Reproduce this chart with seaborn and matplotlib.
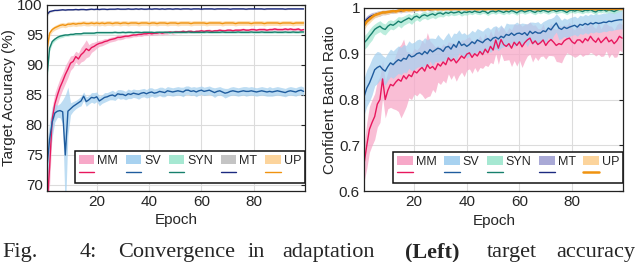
import numpy as np
import matplotlib
matplotlib.use("Agg")
import matplotlib.pyplot as plt
from matplotlib.patches import Patch
from matplotlib.lines import Line2D
import seaborn as sns

epochs = list(range(1, 100))
names = ["MM", "SV", "SYN", "MT", "UP"]

# ---------- left panel: target accuracy (%) ----------
mm_acc = [66.0, 73.0, 81.0, 83.5, 85.0, 86.3, 87.3, 88.4, 89.3, 90.3,
          90.6, 91.4, 91.0, 91.7, 92.1, 92.7, 92.4, 92.9, 93.1, 93.4,
          93.6, 93.7, 93.9, 94.0, 94.2, 94.3, 94.4, 94.6, 94.6, 94.7,
          94.8, 94.8, 94.9, 95.0, 95.0, 95.1, 95.1, 95.2, 95.2, 95.3,
          95.2, 95.3, 95.3, 95.4, 95.3, 95.4, 95.4, 95.5, 95.4, 95.5,
          95.5, 95.5, 95.6, 95.5, 95.6, 95.6, 95.5, 95.6, 95.6, 95.7,
          95.6, 95.7, 95.7, 95.6, 95.7, 95.7, 95.8, 95.7, 95.7, 95.8,
          95.8, 95.7, 95.8, 95.8, 95.8, 95.9, 95.8, 95.8, 95.9, 95.9,
          95.8, 95.9, 95.9, 95.9, 95.8, 95.9, 95.9, 96.0, 95.9, 95.9,
          95.9, 96.0, 95.9, 96.0, 95.9, 95.9, 96.0, 95.8, 95.9]
mm_acc_err = [3.0, 3.0, 2.0, 1.8, 1.6, 1.5, 1.4, 1.5, 1.4, 1.2,
              1.0, 0.9, 1.0, 1.2, 1.4, 1.5, 1.0, 0.8, 0.7, 0.6,
              0.5, 0.5, 0.5, 0.4, 0.4, 0.4, 0.4, 0.4, 0.4, 0.4,
              0.3, 0.3, 0.35, 0.3, 0.3, 0.3, 0.35, 0.3, 0.3, 0.3,
              0.3, 0.3, 0.3, 0.25, 0.3, 0.3, 0.3, 0.25, 0.3, 0.3,
              0.25, 0.3, 0.3, 0.25, 0.25, 0.3, 0.25, 0.25, 0.3, 0.25,
              0.25, 0.25, 0.3, 0.25, 0.25, 0.25, 0.25, 0.3, 0.25, 0.25,
              0.25, 0.25, 0.25, 0.25, 0.3, 0.25, 0.25, 0.25, 0.25, 0.25,
              0.25, 0.25, 0.25, 0.3, 0.25, 0.25, 0.25, 0.25, 0.25, 0.25,
              0.25, 0.25, 0.25, 0.25, 0.25, 0.3, 0.25, 0.25, 0.25]

sv_acc = [73.0, 77.6, 80.5, 82.0, 82.3, 82.4, 82.2, 75.0, 82.3, 82.7,
          83.1, 83.4, 83.7, 84.0, 84.8, 83.9, 84.2, 84.6, 84.5, 84.7,
          84.0, 84.3, 84.6, 84.7, 84.9, 85.0, 84.8, 85.2, 85.1, 85.1,
          84.9, 85.2, 85.1, 85.3, 85.2, 85.1, 85.3, 85.4, 85.2, 85.4,
          85.5, 85.3, 85.4, 85.6, 85.5, 85.4, 85.7, 85.6, 85.5, 85.6,
          85.7, 85.6, 85.5, 85.8, 85.8, 85.6, 85.7, 85.5, 85.7, 85.8,
          85.6, 85.7, 85.8, 85.6, 85.4, 85.6, 85.7, 85.5, 85.3, 85.4,
          85.6, 85.7, 85.6, 85.5, 85.6, 85.7, 85.6, 85.6, 85.7, 85.6,
          85.5, 85.6, 85.7, 85.6, 85.5, 85.6, 85.5, 85.6, 85.7, 85.6,
          85.5, 85.4, 85.6, 85.7, 85.6, 85.5, 85.7, 85.8, 85.6]
sv_acc_err = [4.0, 3.0, 2.5, 1.5, 1.0, 1.2, 2.0, 10.0, 4.0, 1.0,
              0.8, 0.7, 0.7, 0.8, 0.7, 0.8, 0.7, 0.8, 0.9, 0.8,
              0.8, 0.7, 0.8, 0.7, 0.7, 0.8, 0.7, 0.7, 0.8, 0.7,
              0.7, 0.8, 0.7, 0.7, 0.7, 0.8, 0.7, 0.7, 0.7, 0.8,
              0.7, 0.7, 0.7, 0.7, 0.8, 0.7, 0.7, 0.7, 0.7, 0.7,
              0.7, 0.7, 0.8, 0.7, 0.7, 0.7, 0.7, 0.8, 0.7, 0.7,
              0.7, 0.7, 0.7, 0.7, 0.8, 0.7, 0.7, 0.7, 0.8, 0.7,
              0.7, 0.7, 0.7, 0.7, 0.7, 0.7, 0.8, 0.7, 0.7, 0.7,
              0.7, 0.7, 0.7, 0.7, 0.7, 0.8, 0.7, 0.7, 0.7, 0.7,
              0.7, 0.7, 0.7, 0.7, 0.7, 0.7, 0.7, 0.7, 0.7]

syn_acc = [88.2, 92.8, 93.9, 94.3, 94.6, 94.8, 94.9, 95.0, 95.0, 95.1,
           95.1, 95.2, 95.2, 95.2, 95.3, 95.3, 95.3, 95.3, 95.3, 95.4,
           95.4, 95.4, 95.4, 95.4, 95.4, 95.4, 95.45, 95.4, 95.4, 95.45,
           95.4, 95.45, 95.45, 95.4, 95.45, 95.45, 95.4, 95.45, 95.45, 95.45,
           95.45, 95.4, 95.45, 95.45, 95.45, 95.45, 95.45, 95.4, 95.45, 95.45,
           95.45, 95.45, 95.45, 95.45, 95.5, 95.45, 95.45, 95.45, 95.45, 95.45,
           95.45, 95.5, 95.45, 95.45, 95.45, 95.45, 95.45, 95.5, 95.45, 95.45,
           95.45, 95.45, 95.45, 95.5, 95.45, 95.45, 95.45, 95.45, 95.5, 95.45,
           95.45, 95.45, 95.5, 95.45, 95.45, 95.45, 95.45, 95.5, 95.45, 95.45,
           95.45, 95.5, 95.45, 95.45, 95.5, 95.45, 95.45, 95.5, 95.5]
syn_acc_err = [1.0, 0.5, 0.4, 0.3, 0.3, 0.3, 0.3, 0.2, 0.2, 0.2,
               0.2, 0.2, 0.2, 0.2, 0.2, 0.2, 0.2, 0.2, 0.2, 0.2,
               0.2, 0.2, 0.2, 0.2, 0.2, 0.2, 0.2, 0.2, 0.2, 0.2,
               0.2, 0.2, 0.2, 0.2, 0.2, 0.2, 0.2, 0.2, 0.2, 0.2,
               0.2, 0.2, 0.2, 0.2, 0.2, 0.2, 0.2, 0.2, 0.2, 0.2,
               0.2, 0.2, 0.2, 0.2, 0.2, 0.2, 0.2, 0.2, 0.2, 0.2,
               0.2, 0.2, 0.2, 0.2, 0.2, 0.2, 0.2, 0.2, 0.2, 0.2,
               0.2, 0.2, 0.2, 0.2, 0.2, 0.2, 0.2, 0.2, 0.2, 0.2,
               0.2, 0.2, 0.2, 0.2, 0.2, 0.2, 0.2, 0.2, 0.2, 0.2,
               0.2, 0.2, 0.2, 0.2, 0.2, 0.2, 0.2, 0.2, 0.2]

mt_acc = [98.4, 98.9, 99.0, 99.1, 99.1, 99.15, 99.2, 99.15, 99.2, 99.2,
          99.2, 99.25, 99.2, 99.25, 99.25, 99.2, 99.25, 99.3, 99.25, 99.3,
          99.25, 99.3, 99.3, 99.25, 99.3, 99.3, 99.3, 99.35, 99.3, 99.3,
          99.3, 99.35, 99.3, 99.3, 99.35, 99.3, 99.35, 99.3, 99.3, 99.35,
          99.3, 99.35, 99.35, 99.3, 99.35, 99.3, 99.35, 99.35, 99.3, 99.35,
          99.35, 99.3, 99.35, 99.35, 99.35, 99.3, 99.35, 99.35, 99.35, 99.3,
          99.35, 99.35, 99.35, 99.35, 99.3, 99.35, 99.35, 99.35, 99.35, 99.35,
          99.3, 99.35, 99.35, 99.35, 99.35, 99.35, 99.3, 99.35, 99.35, 99.35,
          99.35, 99.35, 99.35, 99.3, 99.35, 99.35, 99.35, 99.35, 99.35, 99.35,
          99.35, 99.3, 99.35, 99.35, 99.35, 99.35, 99.35, 99.35, 99.35]
mt_acc_err = [0.3, 0.2, 0.15, 0.1, 0.1, 0.1, 0.1, 0.1, 0.1, 0.1,
              0.1, 0.1, 0.1, 0.1, 0.1, 0.1, 0.1, 0.1, 0.1, 0.1,
              0.1, 0.1, 0.1, 0.1, 0.1, 0.1, 0.1, 0.1, 0.1, 0.1,
              0.1, 0.1, 0.1, 0.1, 0.1, 0.1, 0.1, 0.1, 0.1, 0.1,
              0.1, 0.1, 0.1, 0.1, 0.1, 0.1, 0.1, 0.1, 0.1, 0.1,
              0.1, 0.1, 0.1, 0.1, 0.1, 0.1, 0.1, 0.1, 0.1, 0.1,
              0.1, 0.1, 0.1, 0.1, 0.1, 0.1, 0.1, 0.1, 0.1, 0.1,
              0.1, 0.1, 0.1, 0.1, 0.1, 0.1, 0.1, 0.1, 0.1, 0.1,
              0.1, 0.1, 0.1, 0.1, 0.1, 0.1, 0.1, 0.1, 0.1, 0.1,
              0.1, 0.1, 0.1, 0.1, 0.1, 0.1, 0.1, 0.1, 0.1]

up_acc = [92.6, 95.3, 95.9, 96.2, 96.4, 96.6, 96.7, 96.6, 96.8, 96.8,
          96.9, 96.8, 96.9, 96.9, 97.0, 96.9, 96.9, 97.0, 96.9, 97.0,
          96.9, 97.0, 96.9, 97.0, 97.0, 96.9, 97.0, 97.0, 96.9, 97.0,
          97.0, 96.9, 97.0, 97.0, 97.0, 96.9, 97.0, 97.0, 97.0, 96.9,
          97.0, 97.0, 96.9, 97.0, 97.0, 97.0, 96.9, 97.0, 97.0, 97.0,
          96.9, 97.0, 97.0, 97.0, 97.0, 96.9, 97.0, 97.0, 97.0, 97.0,
          97.0, 96.9, 97.0, 97.0, 97.0, 97.0, 97.0, 96.9, 97.0, 97.0,
          97.0, 97.0, 96.9, 97.0, 97.0, 97.0, 97.0, 97.0, 96.9, 97.0,
          97.0, 97.0, 97.0, 96.9, 97.0, 97.0, 97.0, 97.0, 97.0, 96.9,
          97.0, 97.0, 97.0, 97.0, 96.9, 97.0, 97.0, 97.0, 97.0]
up_acc_err = [0.8, 0.5, 0.4, 0.4, 0.4, 0.4, 0.4, 0.4, 0.4, 0.4,
              0.4, 0.4, 0.4, 0.4, 0.4, 0.4, 0.4, 0.4, 0.4, 0.4,
              0.4, 0.4, 0.4, 0.4, 0.4, 0.4, 0.4, 0.4, 0.4, 0.4,
              0.4, 0.4, 0.4, 0.4, 0.4, 0.4, 0.4, 0.4, 0.4, 0.4,
              0.4, 0.4, 0.4, 0.4, 0.4, 0.4, 0.4, 0.4, 0.4, 0.4,
              0.4, 0.4, 0.4, 0.4, 0.4, 0.4, 0.4, 0.4, 0.4, 0.4,
              0.4, 0.4, 0.4, 0.4, 0.4, 0.4, 0.4, 0.4, 0.4, 0.4,
              0.4, 0.4, 0.4, 0.4, 0.4, 0.4, 0.4, 0.4, 0.4, 0.4,
              0.4, 0.4, 0.4, 0.4, 0.4, 0.4, 0.4, 0.4, 0.4, 0.4,
              0.4, 0.4, 0.4, 0.4, 0.4, 0.4, 0.4, 0.4, 0.4]

# ---------- right panel: confident batch ratio ----------
mm_cbr = [0.662, 0.70, 0.735, 0.75, 0.763, 0.79, 0.80, 0.845, 0.80, 0.82,
          0.833, 0.83, 0.838, 0.844, 0.84, 0.852, 0.845, 0.854, 0.85, 0.862,
          0.858, 0.865, 0.87, 0.862, 0.876, 0.868, 0.872, 0.865, 0.878, 0.873,
          0.882, 0.876, 0.891, 0.884, 0.889, 0.88, 0.887, 0.895, 0.89, 0.899,
          0.902, 0.892, 0.90, 0.895, 0.905, 0.898, 0.91, 0.902, 0.916, 0.908,
          0.93, 0.912, 0.931, 0.92, 0.916, 0.922, 0.912, 0.925, 0.918, 0.926,
          0.915, 0.924, 0.93, 0.934, 0.922, 0.928, 0.92, 0.924, 0.93, 0.918,
          0.926, 0.931, 0.925, 0.918, 0.922, 0.92, 0.928, 0.932, 0.934, 0.926,
          0.922, 0.93, 0.93, 0.924, 0.933, 0.928, 0.938, 0.93, 0.925, 0.934,
          0.924, 0.93, 0.936, 0.926, 0.93, 0.922, 0.928, 0.938, 0.934]
mm_cbr_err = [0.04, 0.05, 0.05, 0.05, 0.05, 0.05, 0.05, 0.04, 0.04, 0.04,
              0.05, 0.05, 0.06, 0.07, 0.08, 0.08, 0.06, 0.05, 0.05, 0.05,
              0.05, 0.05, 0.06, 0.06, 0.07, 0.06, 0.05, 0.05, 0.04, 0.04,
              0.04, 0.04, 0.035, 0.04, 0.035, 0.04, 0.035, 0.035, 0.04, 0.035,
              0.035, 0.035, 0.03, 0.035, 0.035, 0.03, 0.035, 0.03, 0.035, 0.03,
              0.03, 0.035, 0.03, 0.035, 0.03, 0.035, 0.04, 0.04, 0.045, 0.04,
              0.045, 0.04, 0.035, 0.035, 0.04, 0.035, 0.035, 0.03, 0.035, 0.03,
              0.03, 0.035, 0.03, 0.035, 0.04, 0.04, 0.035, 0.03, 0.035, 0.03,
              0.03, 0.035, 0.03, 0.03, 0.035, 0.03, 0.035, 0.03, 0.03, 0.035,
              0.03, 0.035, 0.03, 0.035, 0.03, 0.03, 0.035, 0.03, 0.03]

sv_cbr = [0.807, 0.825, 0.836, 0.85, 0.865, 0.87, 0.873, 0.866, 0.862, 0.872,
          0.88, 0.876, 0.882, 0.887, 0.884, 0.89, 0.888, 0.898, 0.893, 0.895,
          0.90, 0.902, 0.898, 0.905, 0.90, 0.909, 0.904, 0.908, 0.912, 0.91,
          0.905, 0.914, 0.916, 0.91, 0.92, 0.914, 0.927, 0.918, 0.921, 0.916,
          0.92, 0.926, 0.922, 0.93, 0.927, 0.924, 0.93, 0.933, 0.928, 0.934,
          0.936, 0.932, 0.938, 0.935, 0.942, 0.94, 0.945, 0.94, 0.944, 0.945,
          0.942, 0.946, 0.94, 0.949, 0.944, 0.948, 0.945, 0.945, 0.95, 0.948,
          0.956, 0.952, 0.96, 0.967, 0.956, 0.953, 0.958, 0.955, 0.958, 0.96,
          0.962, 0.958, 0.964, 0.962, 0.966, 0.963, 0.967, 0.965, 0.968, 0.966,
          0.967, 0.969, 0.968, 0.971, 0.97, 0.972, 0.973, 0.974, 0.974]
sv_cbr_err = [0.04, 0.04, 0.04, 0.04, 0.035, 0.035, 0.03, 0.03, 0.03, 0.03,
              0.03, 0.03, 0.03, 0.03, 0.03, 0.03, 0.03, 0.03, 0.03, 0.03,
              0.03, 0.03, 0.03, 0.03, 0.03, 0.025, 0.03, 0.025, 0.03, 0.025,
              0.025, 0.025, 0.03, 0.025, 0.025, 0.03, 0.025, 0.025, 0.025, 0.025,
              0.025, 0.025, 0.025, 0.025, 0.025, 0.025, 0.025, 0.025, 0.025, 0.025,
              0.025, 0.025, 0.025, 0.02, 0.025, 0.025, 0.02, 0.025, 0.025, 0.02,
              0.025, 0.02, 0.025, 0.02, 0.025, 0.02, 0.025, 0.02, 0.02, 0.025,
              0.02, 0.025, 0.02, 0.02, 0.025, 0.02, 0.02, 0.02, 0.02, 0.02,
              0.02, 0.02, 0.02, 0.02, 0.02, 0.02, 0.02, 0.02, 0.02, 0.02,
              0.02, 0.02, 0.02, 0.02, 0.02, 0.02, 0.02, 0.02, 0.02]

syn_cbr = [0.924, 0.93, 0.938, 0.945, 0.953, 0.957, 0.96, 0.955, 0.953, 0.96,
           0.964, 0.962, 0.966, 0.971, 0.968, 0.972, 0.975, 0.978, 0.974, 0.98,
           0.982, 0.978, 0.983, 0.985, 0.982, 0.985, 0.987, 0.984, 0.988, 0.989,
           0.986, 0.99, 0.988, 0.991, 0.989, 0.99, 0.992, 0.988, 0.991, 0.99,
           0.992, 0.99, 0.993, 0.991, 0.99, 0.993, 0.992, 0.988, 0.992, 0.993,
           0.991, 0.994, 0.992, 0.99, 0.993, 0.991, 0.994, 0.992, 0.989, 0.993,
           0.994, 0.991, 0.993, 0.995, 0.992, 0.99, 0.994, 0.992, 0.995, 0.993,
           0.991, 0.994, 0.995, 0.992, 0.994, 0.995, 0.993, 0.99, 0.994, 0.995,
           0.993, 0.995, 0.994, 0.992, 0.995, 0.994, 0.996, 0.993, 0.991, 0.995,
           0.994, 0.996, 0.993, 0.995, 0.994, 0.992, 0.995, 0.997, 0.998]
syn_cbr_err = [0.015, 0.015, 0.015, 0.015, 0.012, 0.012, 0.012, 0.012, 0.012, 0.012,
               0.01, 0.01, 0.01, 0.01, 0.012, 0.01, 0.01, 0.01, 0.01, 0.01,
               0.008, 0.008, 0.008, 0.008, 0.008, 0.008, 0.008, 0.008, 0.008, 0.008,
               0.006, 0.006, 0.006, 0.006, 0.006, 0.006, 0.006, 0.006, 0.006, 0.006,
               0.005, 0.005, 0.005, 0.005, 0.005, 0.005, 0.005, 0.005, 0.005, 0.005,
               0.005, 0.005, 0.005, 0.005, 0.005, 0.005, 0.005, 0.005, 0.005, 0.005,
               0.005, 0.005, 0.005, 0.005, 0.005, 0.005, 0.005, 0.005, 0.005, 0.005,
               0.005, 0.005, 0.005, 0.005, 0.005, 0.005, 0.005, 0.005, 0.005, 0.005,
               0.005, 0.005, 0.005, 0.005, 0.005, 0.005, 0.005, 0.005, 0.005, 0.005,
               0.005, 0.005, 0.005, 0.005, 0.005, 0.005, 0.005, 0.005, 0.005]

mt_cbr = [0.968, 0.975, 0.98, 0.983, 0.985, 0.987, 0.988, 0.99, 0.99, 0.991,
          0.992, 0.992, 0.993, 0.994, 0.993, 0.995, 0.995, 0.996, 0.995, 0.996,
          0.996, 0.997, 0.996, 0.997, 0.997, 0.996, 0.997, 0.998, 0.997, 0.997,
          0.998, 0.997, 0.998, 0.998, 0.997, 0.998, 0.998, 0.998, 0.997, 0.998,
          0.998, 0.998, 0.998, 0.997, 0.998, 0.998, 0.998, 0.998, 0.998, 0.997,
          0.998, 0.998, 0.998, 0.998, 0.998, 0.998, 0.997, 0.998, 0.998, 0.998,
          0.998, 0.998, 0.998, 0.998, 0.998, 0.997, 0.998, 0.998, 0.998, 0.998,
          0.998, 0.998, 0.998, 0.998, 0.998, 0.998, 0.998, 0.997, 0.998, 0.998,
          0.998, 0.998, 0.998, 0.998, 0.998, 0.998, 0.998, 0.998, 0.997, 0.998,
          0.998, 0.998, 0.998, 0.998, 0.998, 0.998, 0.998, 0.998, 0.998]
mt_cbr_err = [0.008, 0.008, 0.007, 0.007, 0.006, 0.006, 0.006, 0.005, 0.005, 0.005,
              0.004, 0.004, 0.004, 0.004, 0.004, 0.004, 0.004, 0.004, 0.004, 0.004,
              0.003, 0.003, 0.003, 0.003, 0.003, 0.003, 0.003, 0.003, 0.003, 0.003,
              0.003, 0.003, 0.003, 0.003, 0.003, 0.003, 0.003, 0.003, 0.003, 0.003,
              0.003, 0.003, 0.003, 0.003, 0.003, 0.003, 0.003, 0.003, 0.003, 0.003,
              0.003, 0.003, 0.003, 0.003, 0.003, 0.003, 0.003, 0.003, 0.003, 0.003,
              0.003, 0.003, 0.003, 0.003, 0.003, 0.003, 0.003, 0.003, 0.003, 0.003,
              0.003, 0.003, 0.003, 0.003, 0.003, 0.003, 0.003, 0.003, 0.003, 0.003,
              0.003, 0.003, 0.003, 0.003, 0.003, 0.003, 0.003, 0.003, 0.003, 0.003,
              0.003, 0.003, 0.003, 0.003, 0.003, 0.003, 0.003, 0.003, 0.003]

up_cbr = [0.962, 0.97, 0.975, 0.98, 0.984, 0.986, 0.988, 0.99, 0.99, 0.991,
          0.992, 0.993, 0.992, 0.994, 0.995, 0.994, 0.996, 0.995, 0.996, 0.997,
          0.996, 0.997, 0.997, 0.996, 0.998, 0.997, 0.997, 0.998, 0.997, 0.998,
          0.997, 0.998, 0.998, 0.997, 0.998, 0.998, 0.997, 0.998, 0.998, 0.997,
          0.998, 0.998, 0.998, 0.997, 0.998, 0.998, 0.997, 0.998, 0.998, 0.998,
          0.997, 0.998, 0.998, 0.998, 0.997, 0.998, 0.998, 0.998, 0.997, 0.998,
          0.998, 0.997, 0.998, 0.998, 0.998, 0.998, 0.997, 0.998, 0.998, 0.998,
          0.998, 0.997, 0.998, 0.998, 0.998, 0.998, 0.998, 0.997, 0.998, 0.998,
          0.998, 0.998, 0.997, 0.998, 0.998, 0.998, 0.998, 0.998, 0.997, 0.998,
          0.998, 0.998, 0.998, 0.997, 0.998, 0.998, 0.998, 0.998, 0.998]
up_cbr_err = [0.01, 0.008, 0.008, 0.007, 0.006, 0.006, 0.005, 0.005, 0.005, 0.005,
              0.004, 0.004, 0.004, 0.004, 0.004, 0.004, 0.004, 0.004, 0.004, 0.004,
              0.003, 0.003, 0.003, 0.003, 0.003, 0.003, 0.003, 0.003, 0.003, 0.003,
              0.003, 0.003, 0.003, 0.003, 0.003, 0.003, 0.003, 0.003, 0.003, 0.003,
              0.003, 0.003, 0.003, 0.003, 0.003, 0.003, 0.003, 0.003, 0.003, 0.003,
              0.003, 0.003, 0.003, 0.003, 0.003, 0.003, 0.003, 0.003, 0.003, 0.003,
              0.003, 0.003, 0.003, 0.003, 0.003, 0.003, 0.003, 0.003, 0.003, 0.003,
              0.003, 0.003, 0.003, 0.003, 0.003, 0.003, 0.003, 0.003, 0.003, 0.003,
              0.003, 0.003, 0.003, 0.003, 0.003, 0.003, 0.003, 0.003, 0.003, 0.003,
              0.003, 0.003, 0.003, 0.003, 0.003, 0.003, 0.003, 0.003, 0.003]

line_colors = ["#e8175d", "#1f5c9e", "#17806d", "#1c2a80", "#f0930f"]
band_left = ["#f7a8c8", "#a8d2f0", "#a6e8d2", "#c4c4c4", "#fcd49c"]
band_right = ["#f7a8c8", "#a8d2f0", "#a6e8d2", "#a9a9d6", "#fcd49c"]
line_widths = [1.0, 1.0, 1.0, 1.0, 1.0]
line_widths_right = [1.0, 1.0, 1.0, 1.0, 1.8]

sns.set_theme(style="whitegrid")
plt.rcParams["font.family"] = ["Liberation Sans", "DejaVu Sans"]

fig = plt.figure(figsize=(6.4, 2.62), dpi=100)
ax1 = fig.add_axes([0.0734, 0.271, 0.403, 0.710])
ax2 = fig.add_axes([0.569, 0.270, 0.405, 0.700])

left_series = [(mm_acc, mm_acc_err), (sv_acc, sv_acc_err), (syn_acc, syn_acc_err),
               (mt_acc, mt_acc_err), (up_acc, up_acc_err)]
right_series = [(mm_cbr, mm_cbr_err), (sv_cbr, sv_cbr_err), (syn_cbr, syn_cbr_err),
                (mt_cbr, mt_cbr_err), (up_cbr, up_cbr_err)]


def draw_panel(ax, series, bands, widths):
    for (vals, err), bc in zip(series, bands):
        v = np.array(vals)
        e = np.array(err)
        ax.fill_between(epochs, v - e, v + e, color=bc, alpha=0.75, lw=0, zorder=2)
    for (vals, err), lc, lw in zip(series, line_colors, widths):
        sns.lineplot(x=epochs, y=vals, color=lc, lw=lw, ax=ax, zorder=3)
    handles, labels = [], []
    for name, bc, lc, lw in zip(names, bands, line_colors, widths):
        handles += [Patch(facecolor=bc, edgecolor="none"), Line2D([], [], color=lc, lw=lw)]
        labels += [name, ""]
    leg = ax.legend(handles, labels, ncol=5, loc="lower right", bbox_to_anchor=(1.0, 0.043),
                    borderaxespad=0, fontsize=9, handlelength=1.25, handleheight=0.75,
                    handletextpad=0.25, columnspacing=0.6, labelspacing=0.0,
                    borderpad=0.3, fancybox=False, framealpha=1)
    leg.get_frame().set_edgecolor("#111111")
    leg.get_frame().set_linewidth(1.1)
    leg.set_zorder(5)
    ax.set_xlim(1, 99.5)
    ax.set_xticks([20, 40, 60, 80])
    ax.set_xlabel("Epoch", fontsize=11, labelpad=3)
    ax.grid(True, color="#dcdcdc", lw=0.8)
    ax.tick_params(direction="in", top=True, right=True, length=3, width=0.8,
                   labelsize=11, pad=3, color="#222222")
    for s in ax.spines.values():
        s.set_color("#222222")
        s.set_linewidth(0.9)
        s.set_zorder(6)


draw_panel(ax1, left_series, band_left, line_widths)
ax1.set_ylim(69, 100)
ax1.set_yticks([70, 75, 80, 85, 90, 95, 100])
ax1.set_ylabel("Target Accuracy (%)", fontsize=11, labelpad=1)

draw_panel(ax2, right_series, band_right, line_widths_right)
ax2.set_ylim(0.6, 1.0)
ax2.set_yticks([0.6, 0.7, 0.8, 0.9, 1.0])
ax2.set_yticklabels(["0.6", "0.7", "0.8", "0.9", "1"])
ax2.set_ylabel("Confident Batch Ratio", fontsize=11, labelpad=1)

# caption line along the bottom edge
caption_words = ["Fig.", "4:", "Convergence", "in", "adaptation", "(Left)", "target", "accuracy"]
caption_x = [2, 80, 118, 248, 282, 405, 487, 556]
for w, x in zip(caption_words, caption_x):
    fig.text(x / 640, 5 / 262, w, fontsize=16, va="baseline", ha="left",
             family=["Liberation Serif", "DejaVu Serif"],
             fontweight="bold" if w == "(Left)" else "normal")

fig.savefig("out.png", dpi=100)
